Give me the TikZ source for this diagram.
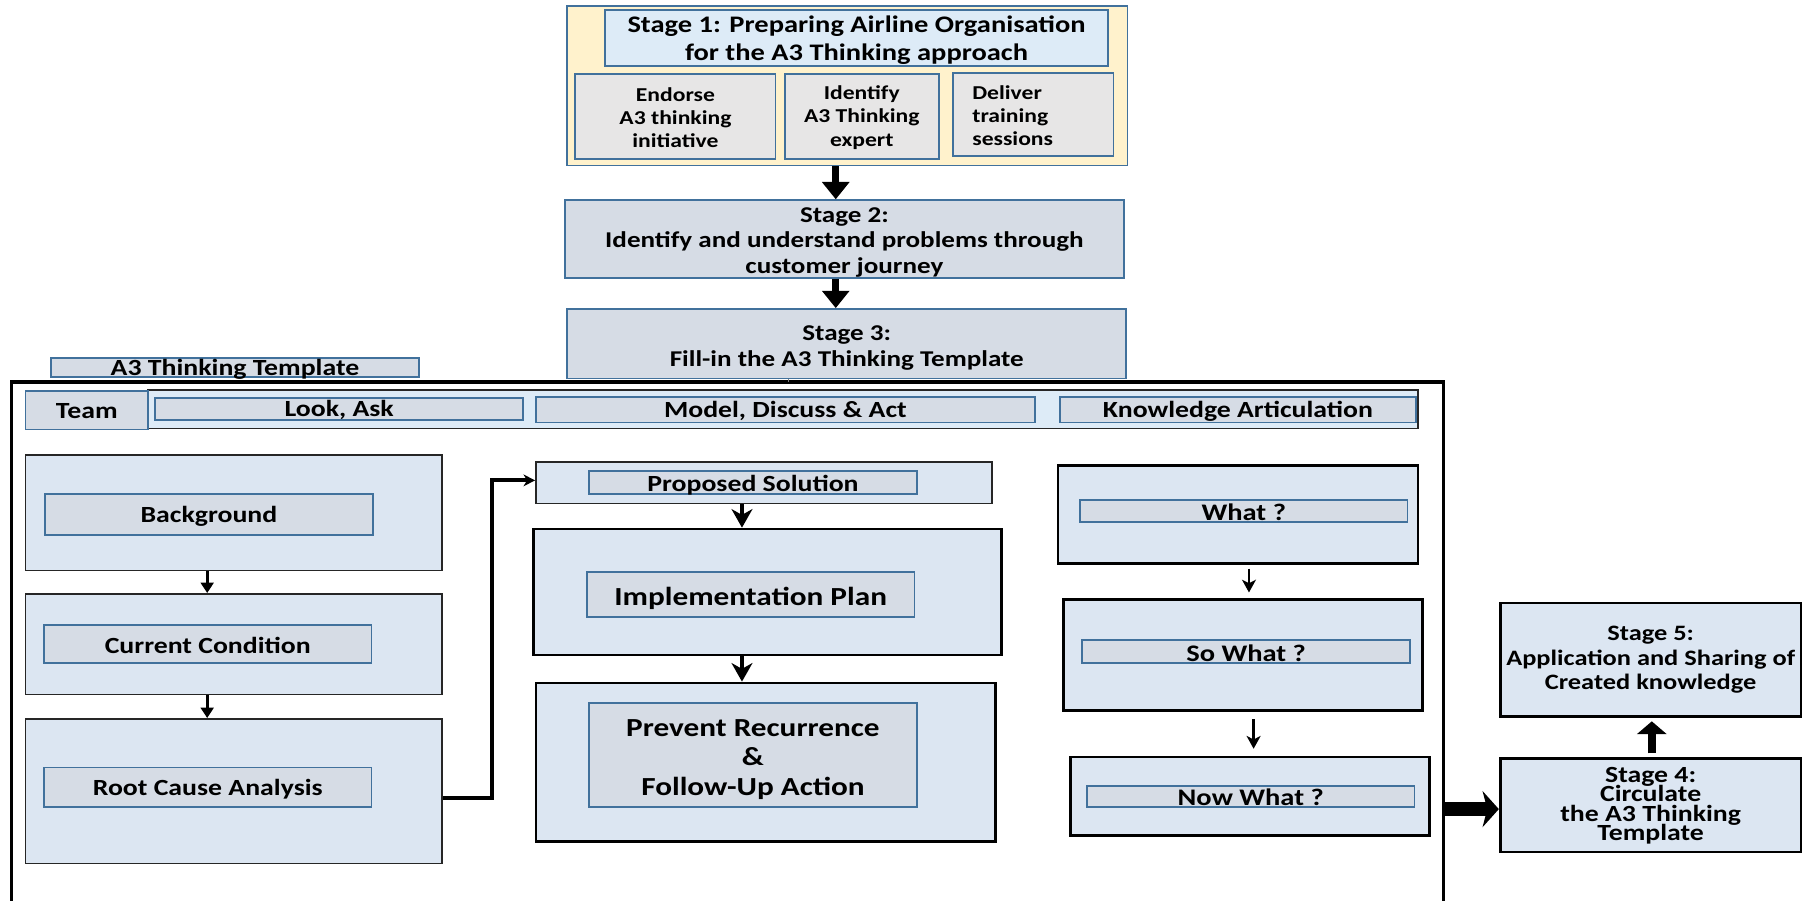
\documentclass[tikz,border=0pt]{standalone}
\usepackage{fontspec}
\setmainfont{Carlito}[FakeStretch=1.2]
\usetikzlibrary{arrows.meta,calc}

\definecolor{edgeblue}{HTML}{41719C}
\definecolor{cream}{HTML}{FFF2CC}
\definecolor{skyblue}{HTML}{DDEBF7}
\definecolor{paleblue}{HTML}{DCE6F2}
\definecolor{slate}{HTML}{D6DCE5}
\definecolor{lightgray}{HTML}{E7E6E6}
\definecolor{darkline}{HTML}{262626}

% bold text at a given size and line distance
\newcommand\fs[2]{\fontsize{#1}{#2}\selectfont\lineskiplimit=-100pt\bfseries}

\begin{document}
\begin{tikzpicture}[x=1pt,y=-1pt,
  every node/.style={inner sep=0pt, align=center, text=black},
  panel/.style={draw=edgeblue, line width=1.6pt, fill=#1},
  softbox/.style={draw=darkline, line width=1.3pt, fill=paleblue},
  hardbox/.style={draw=black, line width=2.3pt, fill=paleblue},
  stagearrow/.style={line width=6pt, -{Triangle[width=23pt,length=15pt]}},
  leftarrow/.style={line width=2.5pt, -{Triangle[width=11pt,length=9pt]}},
  midarrow/.style={line width=4pt, -{Stealth[width=18pt,length=16pt,inset=5pt]}},
  rightarrow/.style={line width=2pt, -{Stealth[width=12pt,length=11pt,inset=3pt]}},
  uparrow/.style={line width=7pt, -{Triangle[width=25pt,length=11pt]}},
  linkarrow/.style={line width=3.5pt, -{Stealth[width=10pt,length=10pt,inset=3pt]}},
  outarrow/.style={line width=11.5pt, -{Stealth[width=31pt,length=14pt,inset=4pt]}}]

\useasboundingbox (0,0) rectangle (1568,778);
\clip (0,0) rectangle (1568,778);

% ---------- Stage 1 ----------
\node[panel=cream, minimum width=484, minimum height=138] (s1) at (732,74) {};
\node[panel=skyblue, minimum width=434, minimum height=48] (s1t) at (740,33) {};
\node[font=\fs{20.5}{24}] (s1t-text) at ($(s1t)+(0,2)$)
  {Stage 1: Preparing Airline Organisation\\for the A3 Thinking approach};
\node[panel=lightgray, minimum width=173, minimum height=73] (endorse) at (583.5,100.5) {};
\node[font=\fs{17}{20}] (endorse-text) at ($(endorse)+(0,1)$) {Endorse\\A3 thinking\\initiative};
\node[panel=lightgray, minimum width=133, minimum height=73] (expert) at (744.5,100.5) {};
\node[font=\fs{17}{20}] (expert-text) at ($(expert)+(0,1)$) {Identify\\A3 Thinking\\expert};
\node[panel=lightgray, minimum width=139, minimum height=72] (training) at (892.5,99) {};
\node[font=\fs{17}{20}, text width=105pt, align=left] (training-text) at ($(training)+(0,1)$)
  {Deliver\\training\\sessions};

% ---------- Stages 2 and 3 ----------
\node[panel=slate, minimum width=483, minimum height=67] (s2) at (729.5,206.5) {};
\node[font=\fs{19.5}{22.2}] (s2-text) at ($(s2)+(0,3)$)
  {Stage 2:\\Identify and understand problems through\\customer journey};
\node[panel=slate, minimum width=483, minimum height=60] (s3) at (731.5,297) {};
\node[font=\fs{19.5}{22.5}] (s3-text) at ($(s3)+(0,3.5)$)
  {Stage 3:\\Fill-in the A3 Thinking Template};

\draw[stagearrow] ($(s1.south)+(-10,0)$) -- ($(s1.south |- s2.north)+(-10,0)$);
\draw[stagearrow] ($(s2.south)+(-7.5,0)$) -- ($(s2.south |- s3.north)+(-7.5,0)$);

% ---------- A3 Thinking Template frame ----------
\node[panel=slate, minimum width=318, minimum height=17] (tpl) at (203,317.5) {};
\node[font=\fs{20}{22}] (tpl-text) at ($(tpl)+(0,2)$) {A3 Thinking Template};
\coordinate (frameNE) at (1247,330);
\coordinate (frameNW) at (10,330);
\draw[line width=2.8pt] ($(frameNW)+(0,460)$) -- (frameNW) -- (frameNE) -- ($(frameNE)+(0,460)$);
\draw[gray, line width=0.8pt] ($(s3.south)+(-50.5,0)$) -- ($(s3.south |- frameNE)+(-50.5,0)$);

% header strip
\node[draw=darkline, line width=1.2pt, fill=skyblue, minimum width=1097, minimum height=33] (strip) at (676.5,353.5) {};
\node[panel=slate, minimum width=106, minimum height=33] (team) at (75,354.5) {};
\node[font=\fs{20}{22}] (team-text) at ($(team)+(0,1)$) {Team};
\node[panel=slate, minimum width=318, minimum height=19] (look) at (293,353.5) {};
\node[font=\fs{20}{22}] (look-text) at ($(look)+(0,1)$) {Look, Ask};
\node[panel=slate, minimum width=431, minimum height=22] (model) at (678.5,354) {};
\node[font=\fs{20}{22}] (model-text) at ($(model)+(0,1)$) {Model, Discuss \& Act};
\node[panel=slate, minimum width=307, minimum height=22] (know) at (1069.5,354) {};
\node[font=\fs{20}{22}] (know-text) at ($(know)+(0,1)$) {Knowledge Articulation};

% ---------- Look, Ask column ----------
\node[softbox, minimum width=360, minimum height=100] (bgo) at (202,443) {};
\node[panel=slate, minimum width=283, minimum height=35] (bgi) at (180.5,444.5) {};
\node[font=\fs{20}{22}] (bgi-text) at ($(bgi)+(0,2)$) {Background};
\node[softbox, minimum width=360, minimum height=87] (cco) at (202,556.5) {};
\node[panel=slate, minimum width=283, minimum height=33] (cci) at (179.5,556.5) {};
\node[font=\fs{20}{22}] (cci-text) at ($(cci)+(0,1)$) {Current Condition};
\node[softbox, minimum width=360, minimum height=125] (rco) at (202,683.5) {};
\node[panel=slate, minimum width=283, minimum height=34] (rci) at (179.5,680) {};
\node[font=\fs{20}{22}] (rci-text) at ($(rci)+(0,2)$) {Root Cause Analysis};

\draw[leftarrow] ($(bgo.south)+(-23,0)$) -- ($(bgo.south |- cco.north)+(-23,0)$);
\draw[leftarrow] ($(cco.south)+(-23,0)$) -- ($(cco.south |- rco.north)+(-23,0)$);

% ---------- Model, Discuss & Act column ----------
\node[softbox, minimum width=394, minimum height=36] (pso) at (660,417) {};
\node[panel=slate, minimum width=283, minimum height=20] (psi) at (650.5,417) {};
\node[font=\fs{20}{22}] (psi-text) at ($(psi)+(0,2)$) {Proposed Solution};
\node[hardbox, minimum width=404, minimum height=109] (ipo) at (663,511.5) {};
\node[panel=slate, minimum width=283, minimum height=39] (ipi) at (648.5,513.5) {};
\node[font=\fs{22.5}{25}] (ipi-text) at ($(ipi)+(0,3.5)$) {Implementation Plan};
\node[hardbox, minimum width=397, minimum height=137] (pro) at (661.5,658.5) {};
\node[panel=slate, minimum width=283, minimum height=90] (pri) at (650.5,652) {};
\node[font=\fs{22.5}{25.5}] (pri-text) at ($(pri)+(0,4)$) {Prevent Recurrence\\\&\\Follow-Up Action};

\draw[linkarrow] ($(rco.east)+(0,5.5)$) -- ($(rco.east)+(42,5.5)$) |- ($(pso.west)+(0,-2)$);
\draw[midarrow] ($(pso.south)+(-19,0)$) -- ($(pso.south |- ipo.north)+(-19,0)$);
\draw[midarrow] ($(ipo.south)+(-22,0)$) -- ($(ipo.south |- pro.north)+(-22,0)$);

% ---------- Knowledge Articulation column ----------
\node[hardbox, minimum width=311, minimum height=85] (wo) at (1069.5,444.5) {};
\node[panel=slate, minimum width=283, minimum height=19] (wi) at (1074.5,441.5) {};
\node[font=\fs{20.5}{22}] (wi-text) at ($(wi)+(0,1)$) {What ?};
\node[hardbox, minimum width=310, minimum height=96] (swo) at (1074,566) {};
\node[panel=slate, minimum width=283, minimum height=20] (swi) at (1076.5,563) {};
\node[font=\fs{20.5}{22}] (swi-text) at ($(swi)+(0,1)$) {So What ?};
\node[hardbox, minimum width=310, minimum height=68] (nwo) at (1080,688) {};
\node[panel=slate, minimum width=283, minimum height=18] (nwi) at (1080.5,688) {};
\node[font=\fs{20.5}{22}] (nwi-text) at ($(nwi)+(0,1)$) {Now What ?};

\draw[rightarrow] ($(wo.south)+(9.5,3)$) -- ($(wo.south |- swo.north)+(9.5,-5)$);
\draw[rightarrow] ($(swo.south)+(9,6)$) -- ($(swo.south |- nwo.north)+(9,-6)$);

% ---------- Stages 4 and 5 ----------
\node[hardbox, minimum width=260, minimum height=98] (s5) at (1426,570) {};
\node[font=\fs{19}{21.2}] (s5-text) at (s5) {Stage 5:\\Application and Sharing of\\Created knowledge};
\node[hardbox, minimum width=260, minimum height=81] (s4) at (1426,695.5) {};
\node[font=\fs{20}{16.7}] (s4-text) at ($(s4)+(0,0.5)$) {Stage 4:\\Circulate\\the A3 Thinking\\Template};

\coordinate (frameOut) at (1247,699);
\draw[outarrow] (frameOut) -- (frameOut -| s4.west);
\draw[uparrow] ($(s4.north)+(1,-3)$) -- ($(s5.south)+(1,3)$);

\end{tikzpicture}
\end{document}
